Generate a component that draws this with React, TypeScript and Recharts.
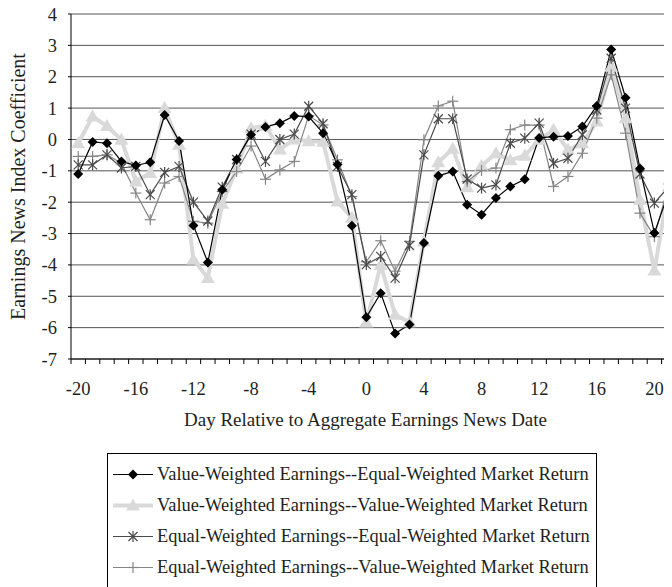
import React from 'react';
import { LineChart, Line, XAxis, YAxis, CartesianGrid, Legend } from 'recharts';

const days = [-20, -19, -18, -17, -16, -15, -14, -13, -12, -11, -10, -9, -8, -7, -6, -5, -4, -3, -2, -1, 0, 1, 2, 3, 4, 5, 6, 7, 8, 9, 10, 11, 12, 13, 14, 15, 16, 17, 18, 19, 20, 21];

const vwEw = [-1.1, -0.08, -0.12, -0.7, -0.83, -0.73, 0.78, -0.05, -2.74, -3.92, -1.6, -0.64, 0.15, 0.4, 0.52, 0.75, 0.73, 0.2, -0.8, -2.75, -5.67, -4.9, -6.19, -5.9, -3.3, -1.16, -1.02, -2.08, -2.4, -1.87, -1.5, -1.27, 0.05, 0.09, 0.11, 0.41, 1.07, 2.87, 1.33, -0.93, -2.98, -1.68];
const vwVw = [-0.12, 0.73, 0.43, -0.01, -1.34, -1.07, 1.0, -0.17, -3.83, -4.42, -2.05, -0.93, 0.36, 0.44, -0.32, 0.0, -0.06, -0.07, -1.98, -2.5, -5.84, -4.0, -5.59, -5.83, -3.25, -0.73, -0.3, -1.52, -0.84, -0.44, -0.66, -0.52, -0.01, 0.31, -0.33, -0.12, 0.57, 2.32, 0.68, -1.92, -4.18, -1.5];
const ewEw = [-0.81, -0.81, -0.49, -0.91, -0.86, -1.76, -1.05, -0.86, -2.0, -2.6, -1.52, -0.64, 0.17, -0.7, 0.0, 0.17, 1.06, 0.5, -0.86, -1.76, -3.99, -3.73, -4.42, -3.38, -0.49, 0.66, 0.66, -1.26, -1.55, -1.45, -0.12, 0.04, 0.52, -0.76, -0.6, 0.15, 0.94, 2.59, 1.0, -1.1, -2.03, -1.5];
const ewVw = [-0.54, -0.54, -0.49, -0.76, -1.71, -2.56, -1.39, -1.18, -2.61, -2.67, -1.66, -1.02, -0.21, -1.27, -0.97, -0.7, 0.76, 0.46, -0.65, -1.82, -3.9, -3.23, -4.2, -3.25, -0.01, 1.07, 1.22, -1.34, -0.99, -0.91, 0.31, 0.46, 0.46, -1.5, -1.18, -0.44, 0.68, 2.06, 0.2, -2.35, -3.1, -1.42];

const xTickLabels = [-20, -16, -12, -8, -4, 0, 4, 8, 12, 16, 20];
const yTicks = [-7, -6, -5, -4, -3, -2, -1, 0, 1, 2, 3, 4];

const seriesNames = [
  'Value-Weighted Earnings--Equal-Weighted Market Return',
  'Value-Weighted Earnings--Value-Weighted Market Return',
  'Equal-Weighted Earnings--Equal-Weighted Market Return',
  'Equal-Weighted Earnings--Value-Weighted Market Return',
];
const xTitle = 'Day Relative to Aggregate Earnings News Date';
const yTitle = 'Earnings News Index Coefficient';

const data = days.map((d, i) => ({ day: d, vwEw: vwEw[i], vwVw: vwVw[i], ewEw: ewEw[i], ewVw: ewVw[i] }));
const boundaries = [...days.map((d) => d - 0.5), days[days.length - 1] + 0.5];
const xTicks = [...boundaries, ...xTickLabels].sort((a, b) => a - b);

const FONT = '"Liberation Serif", "Times New Roman", serif';
const TXT = '#231f20';
const BLACK = '#000000';
const LIGHT = '#d9d9d9';
const DARK = '#4a4a4a';
const MID = '#858585';

const diamondPath = (cx: number, cy: number, r: number) => `M${cx},${cy - r}L${cx + r},${cy}L${cx},${cy + r}L${cx - r},${cy}Z`;
const trianglePath = (cx: number, cy: number) => `M${cx},${cy - 7}L${cx + 7},${cy + 5}L${cx - 7},${cy + 5}Z`;

const DiamondMark = ({ cx, cy }: any) => <path d={diamondPath(cx, cy, 5)} fill={BLACK} />;
const TriangleMark = ({ cx, cy }: any) => <path d={trianglePath(cx, cy)} fill={LIGHT} />;
const StarMark = ({ cx, cy }: any) => (
  <g stroke={DARK} strokeWidth={1.2}>
    <line x1={cx - 4.5} y1={cy - 4.5} x2={cx + 4.5} y2={cy + 4.5} />
    <line x1={cx - 4.5} y1={cy + 4.5} x2={cx + 4.5} y2={cy - 4.5} />
    <line x1={cx} y1={cy - 5.5} x2={cx} y2={cy + 5.5} />
  </g>
);
const PlusMark = ({ cx, cy }: any) => (
  <g stroke={MID} strokeWidth={1.2}>
    <line x1={cx - 5.5} y1={cy} x2={cx + 5.5} y2={cy} />
    <line x1={cx} y1={cy - 5.5} x2={cx} y2={cy + 5.5} />
  </g>
);

const mkDot = (Comp: any, name: string) => (p: any) => {
  if (p.cx == null || p.cy == null) return <g key={`${name}-${p.index}`} />;
  return <Comp key={`${name}-${p.index}`} cx={p.cx} cy={p.cy} />;
};

const XTick = (props: any) => {
  const { x, y, payload } = props;
  const v = payload.value;
  if (Number.isInteger(v)) {
    return (
      <text x={x} y={y + 36} textAnchor="middle" fontSize={18.5} fontFamily={FONT} fill={TXT}>
        {v}
      </text>
    );
  }
  return <line x1={x} x2={x} y1={y} y2={y + 5} stroke={BLACK} strokeWidth={1} />;
};

const legendItems = [
  { name: seriesNames[0], color: BLACK, width: 1.2, Mark: DiamondMark },
  { name: seriesNames[1], color: LIGHT, width: 4, Mark: TriangleMark },
  { name: seriesNames[2], color: DARK, width: 1.2, Mark: StarMark },
  { name: seriesNames[3], color: MID, width: 1.2, Mark: PlusMark },
];

const LegendBox = () => (
  <div
    style={{
      border: '1px solid #000',
      boxSizing: 'border-box',
      width: 490,
      height: 140,
      paddingTop: 5,
      background: '#fff',
    }}
  >
    {legendItems.map((it) => (
      <div key={it.name} style={{ display: 'flex', alignItems: 'center', height: 31 }}>
        <svg width={46} height={31} style={{ display: 'block', flex: 'none' }}>
          <line x1={5} x2={45} y1={15.5} y2={15.5} stroke={it.color} strokeWidth={it.width} />
          <it.Mark cx={25} cy={15.5} />
        </svg>
        <span style={{ marginLeft: 3, fontFamily: FONT, fontSize: 18.4, color: TXT, whiteSpace: 'nowrap', lineHeight: '31px' }}>
          {it.name}
        </span>
      </div>
    ))}
  </div>
);

export default function App() {
  return (
    <div style={{ width: 664, height: 587, marginTop: -8, overflow: 'hidden', position: 'relative' }}>
      <LineChart width={668} height={587} data={data} margin={{ top: 14, right: 0, bottom: 148, left: 0 }}>
        <CartesianGrid vertical={false} stroke="#555" strokeWidth={1} />
        <XAxis
          dataKey="day"
          type="number"
          domain={[-20.5, 21.5]}
          ticks={xTicks}
          interval={0}
          tickSize={0}
          tickMargin={0}
          tickLine={false}
          axisLine={{ stroke: BLACK, strokeWidth: 1 }}
          tick={<XTick />}
          height={80}
          label={{
            content: (p: any) => (
              <text
                x={p.viewBox.x + 294.5}
                y={p.viewBox.y + 67}
                textAnchor="middle"
                fontSize={19}
                fontFamily={FONT}
                fill={TXT}
              >
                {xTitle}
              </text>
            ),
          }}
        />
        <YAxis
          type="number"
          domain={[-7, 4]}
          ticks={yTicks}
          interval={0}
          width={63}
          tickSize={3}
          tickMargin={11}
          axisLine={{ stroke: BLACK, strokeWidth: 1 }}
          tickLine={{ stroke: BLACK }}
          tick={{ fontSize: 18.5, fontFamily: FONT, fill: TXT }}
          label={{
            content: (p: any) => {
              const cx = 17;
              const cy = p.viewBox.y + p.viewBox.height / 2;
              return (
                <text
                  x={cx}
                  y={cy}
                  transform={`rotate(-90, ${cx}, ${cy})`}
                  textAnchor="middle"
                  fontSize={20}
                  fontFamily={FONT}
                  fill={TXT}
                >
                  {yTitle}
                </text>
              );
            },
          }}
        />
        <Legend
          layout="vertical"
          align="center"
          verticalAlign="middle"
          wrapperStyle={{ top: 453, left: 99, width: 490, height: 140 }}
          content={() => <LegendBox />}
        />
        <Line
          type="linear"
          dataKey="vwVw"
          name={seriesNames[1]}
          stroke={LIGHT}
          strokeWidth={4}
          dot={mkDot(TriangleMark, 'tri')}
          activeDot={false}
          isAnimationActive={false}
        />
        <Line
          type="linear"
          dataKey="ewVw"
          name={seriesNames[3]}
          stroke={MID}
          strokeWidth={1.2}
          dot={mkDot(PlusMark, 'plus')}
          activeDot={false}
          isAnimationActive={false}
        />
        <Line
          type="linear"
          dataKey="ewEw"
          name={seriesNames[2]}
          stroke={DARK}
          strokeWidth={1.2}
          dot={mkDot(StarMark, 'star')}
          activeDot={false}
          isAnimationActive={false}
        />
        <Line
          type="linear"
          dataKey="vwEw"
          name={seriesNames[0]}
          stroke={BLACK}
          strokeWidth={1.2}
          dot={mkDot(DiamondMark, 'dia')}
          activeDot={false}
          isAnimationActive={false}
        />
      </LineChart>
    </div>
  );
}
